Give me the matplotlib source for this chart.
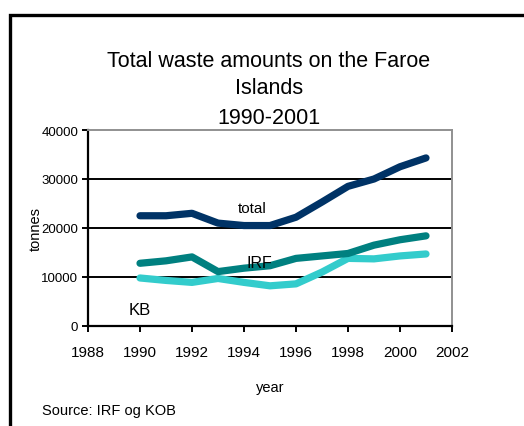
import matplotlib
matplotlib.use("Agg")
import matplotlib.pyplot as plt
from matplotlib.patches import Rectangle

plt.rcParams['font.family'] = ['Liberation Sans', 'DejaVu Sans']

years = [1990, 1991, 1992, 1993, 1994, 1995, 1996, 1997, 1998, 1999, 2000, 2001]
total = [22500, 22500, 23000, 21000, 20500, 20500, 22200, 25300, 28500, 30000, 32500, 34300]
irf = [12800, 13300, 14100, 11100, 11800, 12300, 13800, 14300, 14800, 16500, 17600, 18400]
kb = [9800, 9300, 8900, 9700, 8900, 8200, 8600, 11000, 13800, 13700, 14300, 14700]

x_ticks = [1988, 1990, 1992, 1994, 1996, 1998, 2000, 2002]
y_ticks = [0, 10000, 20000, 30000, 40000]

W, H = 524, 427
fig = plt.figure(figsize=(W / 100, H / 100), dpi=100)
fig.patch.set_facecolor('white')

# outer frame (only top and left edges fall inside the canvas)
fig.patches.append(Rectangle((9.5 / W, -0.1), 1.2, (H - 15.5) / H + 0.1,
                             transform=fig.transFigure, fill=False,
                             edgecolor='black', linewidth=2.4))

ax = fig.add_axes([88 / W, (H - 327) / H, (452 - 88) / W, (327 - 131) / H])
ax.set_xlim(1988, 2002)
ax.set_ylim(0, 40000)

for v in y_ticks[1:-1]:
    ax.axhline(v, color='black', linewidth=1.4, zorder=1)

ax.plot(years, total, color='#003366', linewidth=5.2, solid_capstyle='round',
        solid_joinstyle='round', zorder=3)
ax.plot(years, irf, color='#008080', linewidth=5.2, solid_capstyle='round',
        solid_joinstyle='round', zorder=3)
ax.plot(years, kb, color='#33CCCC', linewidth=5.2, solid_capstyle='round',
        solid_joinstyle='round', zorder=2)

ax.text(1994.3, 24000, 'total', fontsize=11, ha='center', va='center', zorder=4)
ax.text(1994.6, 12900, 'IRF', fontsize=11.5, ha='center', va='center', zorder=4)
ax.text(1990.0, 3400, 'KB', fontsize=12, ha='center', va='center', zorder=4)

ax.set_xticks(x_ticks)
ax.set_xticklabels([str(t) for t in x_ticks], fontsize=11)
ax.set_yticks(y_ticks)
ax.set_yticklabels([str(t) for t in y_ticks], fontsize=9.5)
ax.tick_params(axis='x', direction='out', length=4, width=1.4, pad=10)
ax.tick_params(axis='y', direction='out', length=4, width=1.4, pad=3)

for side in ['left', 'bottom']:
    ax.spines[side].set_linewidth(1.6)
    ax.spines[side].set_color('black')
for side in ['top', 'right']:
    ax.spines[side].set_linewidth(1.4)
    ax.spines[side].set_color('#909090')

ax.set_ylabel('tonnes', fontsize=10.5)
ax.yaxis.set_label_coords(-0.124, 0.5)

fig.text(269 / W, 1 - 62 / H, 'Total waste amounts on the Faroe', fontsize=15.5,
         ha='center', va='center')
fig.text(269 / W, 1 - 89 / H, 'Islands', fontsize=15.5, ha='center', va='center')
fig.text(269 / W, 1 - 118 / H, '1990-2001', fontsize=15.5, ha='center', va='center')

fig.text(270 / W, 1 - 388 / H, 'year', fontsize=10.5, ha='center', va='center')
fig.text(42 / W, 1 - 411 / H, 'Source: IRF og KOB', fontsize=10.5, ha='left',
         va='center')

fig.savefig('out.png', dpi=100)
